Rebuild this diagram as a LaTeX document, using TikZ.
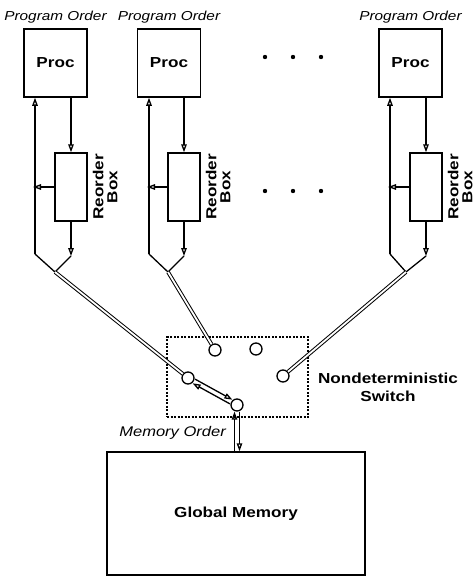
\documentclass[tikz,border=0pt]{standalone}
\usepackage{fontspec}
\setmainfont[FakeStretch=1.18]{Liberation Sans}
\usepackage{tkz-euclide}
\usetikzlibrary{arrows.meta,positioning,calc}

\begin{document}
\begin{tikzpicture}[x=1pt,y=-1pt,
  wire/.style={line width=1.3pt,color=black},
  arr/.style={wire,-{Triangle[open,length=8pt,width=5.5pt]}},
  dbl/.style={line width=1pt,double,double distance=1.8pt},
  box/.style={draw,line width=1.5pt,inner sep=0pt},
  procbox/.style={box,minimum width=63pt,minimum height=68pt,font=\bfseries\fontsize{14.5}{16}\selectfont},
  reordbox/.style={box,minimum width=32pt,minimum height=68pt},
  reordlbl/.style={rotate=90,anchor=north,align=center,inner sep=0pt,font=\bfseries\fontsize{14.5}{14}\selectfont},
  orderlbl/.style={inner sep=0pt,font=\itshape\fontsize{13}{14}\selectfont},
  sw/.style={draw,circle,line width=1.3pt,fill=white,minimum size=12pt,inner sep=0pt}]
\useasboundingbox (0,0) rectangle (476,576);

\tkzDefPoints{35/254/bl1,71/256/br1,55/272/j1}
\tkzDefPoints{149/254/bl2,184/256/br2,168/272/j2}
\tkzDefPoints{390/254/bl3,426/256/br3,406/272/j3}

% processors
\node[procbox] (proc1) at (55.5,63) {Proc};
\node[procbox] (proc2) at (169,63) {Proc};
\node[procbox] (proc3) at (410.5,63) {Proc};

\node[orderlbl,above=5pt of proc1] (po1) {Program Order};
\node[orderlbl,above=5pt of proc2] (po2) {Program Order};
\node[orderlbl,above=5pt of proc3] (po3) {Program Order};

% reorder boxes
\node[reordbox] (reord1) at (71,187) {};
\node[reordbox] (reord2) at (184,187) {};
\node[reordbox] (reord3) at (426,187) {};

\node[reordlbl,right=5pt of reord1,anchor=north] (rl1) {Reorder\\Box};
\node[reordlbl,right=5pt of reord2,anchor=north] (rl2) {Reorder\\Box};
\node[reordlbl,right=5pt of reord3,anchor=north] (rl3) {Reorder\\Box};

% dots
\fill (265,57) circle (2.2) (293,57) circle (2.2) (321,57) circle (2.2);
\fill (265,191) circle (2.2) (293,191) circle (2.2) (321,191) circle (2.2);

% switch
\node[draw,line width=1.8pt,dash pattern=on 2pt off 1.5pt,minimum width=141pt,minimum height=80pt] (switch) at (237.5,377) {};
\node[align=center,inner sep=0pt,font=\bfseries\fontsize{14.5}{18}\selectfont] (swlbl) at (388,387) {Nondeterministic\\Switch};

\node[sw] (c1) at (215,350) {};
\node[sw] (c2) at (256,349) {};
\node[sw] (c3) at (283,376) {};
\node[sw] (c4) at (188,378) {};
\node[sw] (c5) at (237,405) {};

% memory
\node[box,minimum width=258pt,minimum height=123pt,font=\bfseries\fontsize{14.5}{16}\selectfont] (gmem) at (236,513.5) {Global Memory};
\node[anchor=east,inner sep=0pt,font=\itshape\fontsize{14}{16}\selectfont] (memord) at (226,433) {Memory Order};

% processor 1
\draw[arr] (bl1) -- (bl1 |- proc1.south);
\draw[arr] (proc1.south -| reord1) -- (reord1.north);
\draw[arr] (reord1.west) -- ([xshift=-2pt]bl1 |- reord1.west);
\draw[arr] (reord1.south) -- (br1);
\tkzDrawSegments[wire](j1,bl1 br1,j1)
\draw[dbl] (j1) -- (c4);

% processor 2
\draw[arr] (bl2) -- (bl2 |- proc2.south);
\draw[arr] (proc2.south -| reord2) -- (reord2.north);
\draw[arr] (reord2.west) -- ([xshift=-2pt]bl2 |- reord2.west);
\draw[arr] (reord2.south) -- (br2);
\tkzDrawSegments[wire](j2,bl2 br2,j2)
\draw[dbl] (j2) -- (c1);

% processor 3
\draw[arr] (bl3) -- (bl3 |- proc3.south);
\draw[arr] (proc3.south -| reord3) -- (reord3.north);
\draw[arr] (reord3.west) -- ([xshift=-2pt]bl3 |- reord3.west);
\draw[arr] (reord3.south) -- (br3);
\tkzDrawSegments[wire](j3,bl3 br3,j3)
\draw[dbl] (j3) -- (c3);

% switch to memory
\draw[arr,transform canvas={shift={(-1.2,2.1)}}] (c5) -- (c4);
\draw[arr,transform canvas={shift={(1.2,-2.1)}}] (c4) -- (c5);
\draw[arr,transform canvas={shift={(-2.5,0)}}] (c5 |- gmem.north) -- (c5);
\draw[arr,transform canvas={shift={(2.5,0)}}] (c5) -- (c5 |- gmem.north);

\end{tikzpicture}
\end{document}
